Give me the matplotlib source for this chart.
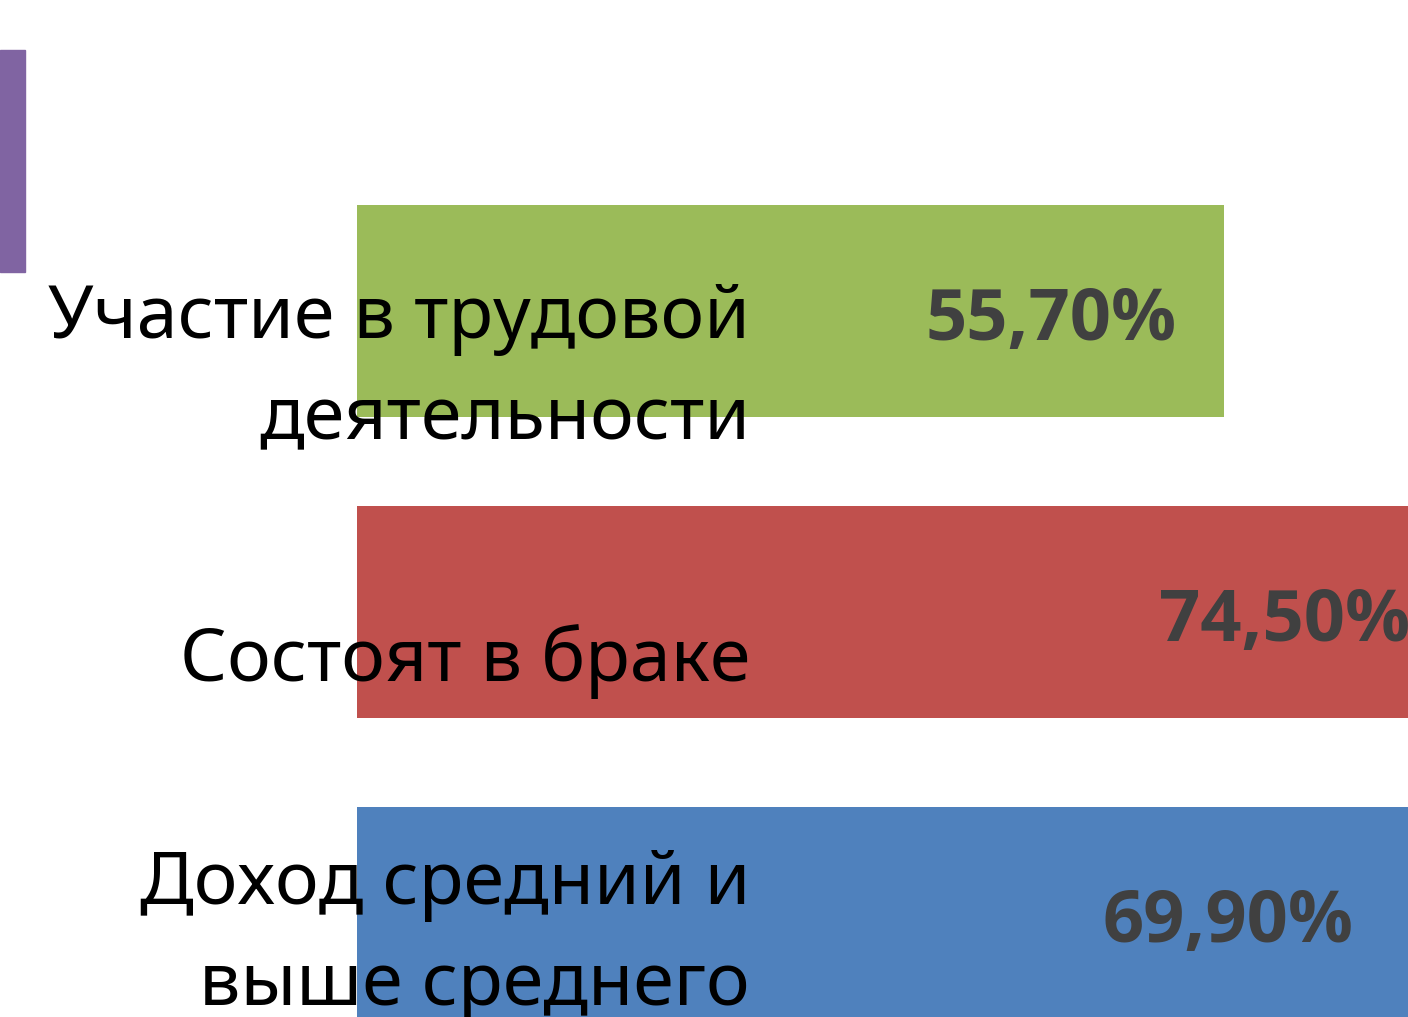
import matplotlib.pyplot as plt
from matplotlib.patches import Rectangle
from matplotlib.transforms import blended_transform_factory

# данные
categories = ['Участие в трудовой\nдеятельности',
              'Состоят в браке',
              'Доход средний и\nвыше среднего']
values = [55.7, 74.5, 69.9]
value_labels = ['55,70%', '74,50%', '69,90%']
colors = ['#9BBB59', '#C0504D', '#4F81BD']

# сдвиг подписей категорий вниз (в долях шага категорий)
label_shift = [0.195, 0.165, 0.075]

fig = plt.figure(figsize=(14.08, 10.17), dpi=100)
ax = fig.add_axes([0, 0, 1, 1])

pos = list(range(len(categories)))
ax.barh(pos, values, height=0.704, color=colors, zorder=1)

ax.set_xlim(-22.93, 67.5)
ax.set_ylim(2.346, -1.033)
ax.axis('off')

# подписи категорий поверх столбцов
tr = blended_transform_factory(ax.transAxes, ax.transData)
for i, name in enumerate(categories):
    ax.text(0.5327, pos[i] + label_shift[i], name, transform=tr,
            ha='right', va='center', fontsize=53, family='Noto Sans',
            linespacing=1.49, color='black', zorder=3)

# значения
for i, v in enumerate(values):
    ax.text(v * 0.8, pos[i] + 0.035, value_labels[i], ha='center', va='center',
            fontsize=52, fontweight='bold', family=['Open Sans', 'DejaVu Sans'],
            color='#404040', zorder=3)

# фиолетовая полоса слева (элемент слайда)
fig.patches.append(Rectangle((0, 1 - 272 / 1017), 25 / 1408, 222 / 1017,
                             transform=fig.transFigure, color='#8064A2'))

fig.savefig('out.png', dpi=100)
